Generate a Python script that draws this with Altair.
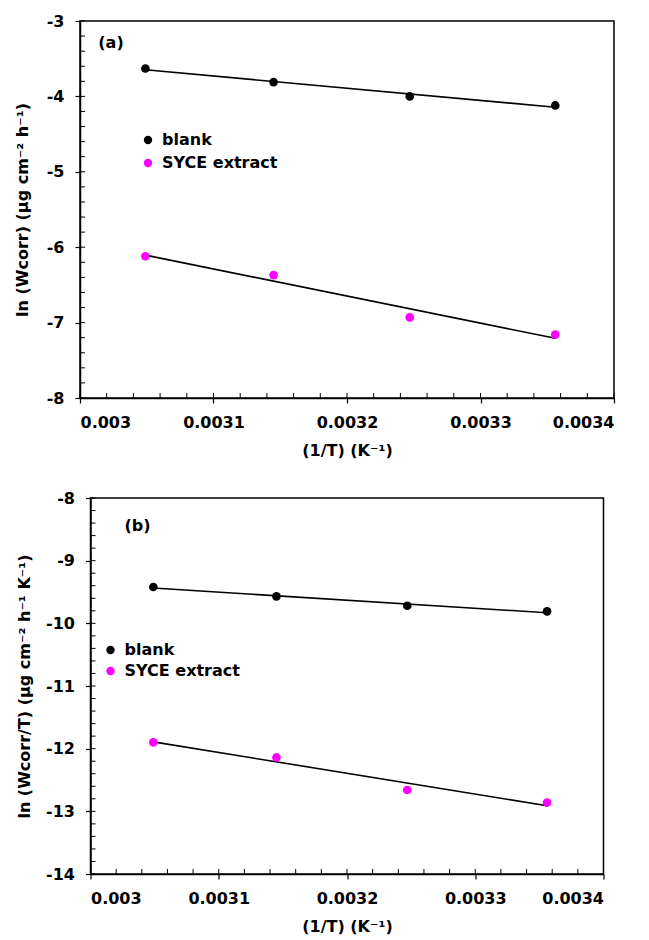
import altair as alt
import pandas as pd

# ---- data ----
inv_T = [0.003049, 0.003145, 0.003247, 0.003356]
series_names = ["blank", "SYCE extract"]
series_colors = ["#000000", "#FF00FF"]

a_blank = [-3.63, -3.81, -4.00, -4.12]
a_syce = [-6.12, -6.37, -6.93, -7.16]
b_blank = [-9.42, -9.57, -9.72, -9.81]
b_syce = [-11.90, -12.14, -12.66, -12.86]

x_major = [0.003, 0.0031, 0.0032, 0.0033, 0.0034]
x_minor = [round(0.003 + 0.00002 * i, 5) for i in range(21)]
a_y_major = [-8, -7, -6, -5, -4, -3]
a_y_minor = [round(-8 + 0.2 * i, 1) for i in range(26)]
b_y_major = [-14, -13, -12, -11, -10, -9, -8]
b_y_minor = [round(-14 + 0.2 * i, 1) for i in range(31)]

FONT = "DejaVu Sans"
FS = 16


def panel(blank, syce, y_dom, y_major, y_minor, ytitle, label, w, h,
          leg_x, leg_y, row_pad, lab_x, lab_y, y_title_pad):
    df = pd.DataFrame({
        "x": inv_T * 2,
        "y": blank + syce,
        "series": [series_names[0]] * len(blank) + [series_names[1]] * len(syce),
    })
    xs = alt.Scale(domain=[x_major[0], x_major[-1]], nice=False, zero=False)
    ys = alt.Scale(domain=y_dom, nice=False, zero=False)
    xaxis = alt.Axis(values=x_major, format=".4~f", title="(1/T) (K\u207b\u00b9)",
                     grid=False, tickSize=5, tickColor="black", tickWidth=1.2,
                     domainColor="black", domainWidth=1.5,
                     labelFont=FONT, labelFontSize=FS, labelFontWeight="bold",
                     labelColor="black", labelPadding=11,
                     titleFont=FONT, titleFontSize=FS, titleFontWeight="bold",
                     titleColor="black", titlePadding=12)
    yaxis = alt.Axis(values=y_major, labelExpr="'' + datum.value",
                     title=ytitle, grid=False, tickSize=5, tickColor="black",
                     tickWidth=1.2, domainColor="black", domainWidth=1.5,
                     labelFont=FONT, labelFontSize=FS, labelFontWeight="bold",
                     labelColor="black", labelPadding=11,
                     titleFont=FONT, titleFontSize=FS, titleFontWeight="bold",
                     titleColor="black", titlePadding=y_title_pad)

    base = alt.Chart(df)
    yticks = alt.Chart(pd.DataFrame({"y": y_minor})).mark_rule(
        color="black", strokeWidth=1).encode(
        y=alt.Y("y:Q", scale=ys, axis=yaxis), x=alt.value(0), x2=alt.value(5))
    xticks = alt.Chart(pd.DataFrame({"x": x_minor})).mark_rule(
        color="black", strokeWidth=1).encode(
        x=alt.X("x:Q", scale=xs, axis=xaxis), y=alt.value(h), y2=alt.value(h - 5))
    lines = base.transform_regression("x", "y", groupby=["series"]).mark_line(
        color="black", strokeWidth=1.6).encode(
        x=alt.X("x:Q"), y=alt.Y("y:Q"), detail="series:N")
    points = base.mark_circle(size=75, opacity=1).encode(
        x=alt.X("x:Q"),
        y=alt.Y("y:Q"),
        color=alt.Color("series:N",
                        scale=alt.Scale(domain=series_names, range=series_colors),
                        legend=alt.Legend(title=None, orient="none",
                                          legendX=leg_x, legendY=leg_y,
                                          labelFont=FONT, labelFontSize=FS,
                                          labelFontWeight="bold", labelColor="black",
                                          symbolType="circle", symbolSize=70,
                                          symbolStrokeWidth=0, labelOffset=6,
                                          rowPadding=row_pad, padding=0)),
    )
    tag = alt.Chart(pd.DataFrame({"t": [label]})).mark_text(
        font=FONT, fontSize=FS, fontWeight="bold", color="black", align="center",
        baseline="middle").encode(text="t:N", x=alt.value(lab_x), y=alt.value(lab_y))
    return alt.layer(yticks, xticks, lines, points, tag).properties(width=w, height=h)


pa = panel(a_blank, a_syce, [-8, -3], a_y_major, a_y_minor,
           "ln (Wcorr) (\u00b5g cm\u207b\u00b2 h\u207b\u00b9)", "(a)", 534, 377,
           60, 111, 7, 31, 22, 16)
pb = panel(b_blank, b_syce, [-14, -8], b_y_major, b_y_minor,
           "ln (Wcorr/T) (\u00b5g cm\u207b\u00b2 h\u207b\u00b9 K\u207b\u00b9)", "(b)", 513, 376,
           12, 144, 5, 47, 28, 13)

chart = alt.concat(pa, pb, columns=1, spacing=100, center=True, bounds="flush").resolve_scale(
    color="independent"
).resolve_legend(color="independent").properties(
    padding={"left": 5, "top": 4, "right": 5, "bottom": 0}
).configure_view(stroke="black", strokeWidth=1.5)

chart.save("out.html", embed_options={"renderer": "svg", "actions": False})
